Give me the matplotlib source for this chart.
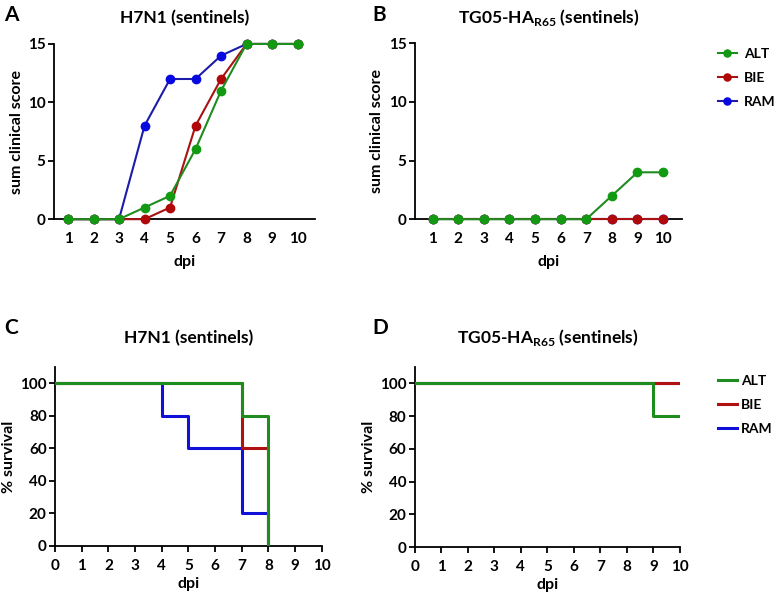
import matplotlib
matplotlib.use("Agg")
import matplotlib.pyplot as plt
import numpy as np

plt.rcParams['font.family'] = ['Lato', 'DejaVu Sans']
plt.rcParams['font.weight'] = 'bold'
plt.rcParams['mathtext.fontset'] = 'custom'
plt.rcParams['mathtext.bf'] = 'Lato:bold'

groups = ["ALT", "BIE", "RAM"]
line_colors = {"ALT": "#1f8c1f", "BIE": "#a81212", "RAM": "#1c1ca8"}
mark_colors = {"ALT": "#129a12", "BIE": "#b00808", "RAM": "#0808e0"}
surv_colors = {"ALT": "#1f8c1f", "BIE": "#b01010", "RAM": "#1010d8"}

dpi_days = [1, 2, 3, 4, 5, 6, 7, 8, 9, 10]

# clinical scores, H7N1
score_h7 = {
    "ALT": [0, 0, 0, 1, 2, 6, 11, 15, 15, 15],
    "BIE": [0, 0, 0, 0, 1, 8, 12, 15, 15, 15],
    "RAM": [0, 0, 0, 8, 12, 12, 14, 15, 15, 15],
}
# clinical scores, TG05-HA R65
score_tg = {
    "ALT": [0, 0, 0, 0, 0, 0, 0, 2, 4, 4],
    "BIE": [0, 0, 0, 0, 0, 0, 0, 0, 0, 0],
    "RAM": [0, 0, 0, 0, 0, 0, 0, 0, 0, 0],
}

# survival step curves (time, percent)
surv_h7 = {
    "ALT": ([0, 7, 8], [100, 80, 0]),
    "BIE": ([0, 7, 8], [100, 60, 0]),
    "RAM": ([0, 4, 5, 7, 8], [100, 80, 60, 20, 0]),
}
surv_tg = {
    "ALT": ([0, 9, 10], [100, 80, 80]),
    "BIE": ([0, 10], [100, 100]),
    "RAM": ([0, 10], [100, 100]),
}

title_h7 = "H7N1 (sentinels)"
title_tg = r"TG05-HA$_{\mathbf{R65}}$ (sentinels)"

fig = plt.figure(figsize=(7.78, 5.94), dpi=100)


def style(ax):
    for s in ["top", "right"]:
        ax.spines[s].set_visible(False)
    for s in ["left", "bottom"]:
        ax.spines[s].set_linewidth(1.3)
        ax.spines[s].set_color("black")
    ax.tick_params(width=1.3, length=4.5, labelsize=11, pad=1.5)
    for lab in ax.get_xticklabels() + ax.get_yticklabels():
        lab.set_fontweight("bold")


def score_panel(rect, data, title):
    ax = fig.add_axes(rect)
    for g in ["RAM", "BIE", "ALT"]:
        ax.plot(dpi_days, data[g], color=line_colors[g], lw=1.5, marker="o",
                ms=6, mfc=mark_colors[g], mec=mark_colors[g], label=g, clip_on=False, zorder=3)
    ax.set_xlim(0.45, 10.7)
    ax.set_ylim(0, 15)
    ax.set_xticks(dpi_days)
    ax.set_yticks([0, 5, 10, 15])
    ax.set_xlabel("dpi", fontsize=11.5, fontweight="bold", labelpad=7)
    ax.set_ylabel("sum clinical score", fontsize=11.5, fontweight="bold", labelpad=3)
    ax.set_title(title, fontsize=12.5, fontweight="bold", pad=15)
    style(ax)
    ax.tick_params(axis="x", length=0, pad=9)
    return ax


def surv_panel(rect, data, title):
    ax = fig.add_axes(rect)
    for g in ["RAM", "BIE", "ALT"]:
        t, p = data[g]
        ax.step(t, p, where="post", color=surv_colors[g], lw=2.2, label=g, zorder=3)
    ax.set_xlim(0, 10)
    ax.set_ylim(0, 110)
    ax.set_xticks(range(0, 11))
    ax.set_yticks([0, 20, 40, 60, 80, 100])
    ax.set_xlabel("dpi", fontsize=11.5, fontweight="bold", labelpad=3)
    ax.set_ylabel("% survival", fontsize=11.5, fontweight="bold", labelpad=3)
    ax.set_title(title, fontsize=12.5, fontweight="bold", pad=17)
    style(ax)
    ax.tick_params(axis="x", pad=5)
    return ax


axA = score_panel([0.0694, 0.631, 0.336, 0.295], score_h7, title_h7)
axB = score_panel([0.533, 0.631, 0.344, 0.296], score_tg, title_tg)
axB.set_xlim(0.3, 10.75)
axC = surv_panel([0.0707, 0.081, 0.343, 0.301], surv_h7, title_h7)
axD = surv_panel([0.533, 0.079, 0.341, 0.303], surv_tg, title_tg)

for ax, ytop, pad in [(axB, 0.919, 0.5), (axD, 0.369, 0.3)]:
    h, l = ax.get_legend_handles_labels()
    order = [l.index(g) for g in groups]
    ax.legend([h[i] for i in order], groups, loc="upper left",
              bbox_to_anchor=(718 / 778, ytop), bbox_transform=fig.transFigure,
              frameon=False, fontsize=10, handlelength=1.35, handletextpad=pad,
              labelspacing=0.87, borderpad=0, borderaxespad=0, markerscale=0.85)

for lab, x, y in [("A", 0.005, 0.975), ("B", 0.478, 0.975), ("C", 0.005, 0.448), ("D", 0.478, 0.448)]:
    fig.text(x, y, lab, fontsize=15, fontweight="bold", va="center")

fig.savefig("out.png", dpi=100)
